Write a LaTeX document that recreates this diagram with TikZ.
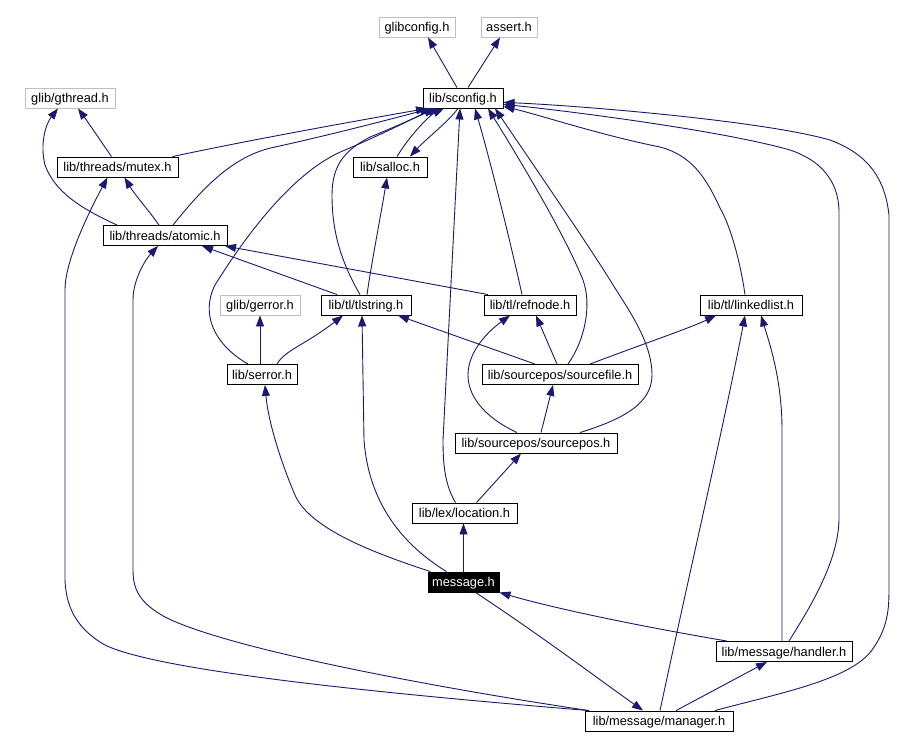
\documentclass[tikz,border=0pt]{standalone}
\usepackage{fontspec}
\setmainfont{Liberation Sans}
\usetikzlibrary{arrows.meta}
\definecolor{edgec}{RGB}{25,25,112}
\definecolor{extc}{RGB}{191,191,191}
\begin{document}
\begin{tikzpicture}[x=1pt,y=-1pt,
  box/.style={draw=black, line width=0.9pt, fill=white, inner sep=0pt, minimum height=20pt, text height=10pt, text depth=0.8pt, font=\fontsize{12.8}{14}\selectfont},
  ext/.style={box, draw=extc},
  cur/.style={box, fill=black, text=white},
  dep/.style={draw=edgec, line width=0.9pt, -{Triangle[length=11pt,width=8pt]}}]
\useasboundingbox[fill=white] (0,0) rectangle (908,748);

\node[ext, minimum width=76pt] (glibconfig) at (417,27) {glibconfig.h};
\node[ext, minimum width=56pt] (assert) at (509,27) {assert.h};
\node[box, minimum width=80pt] (sconfig) at (463,98) {lib/sconfig.h};
\node[ext, minimum width=90pt] (gthread) at (70,98) {glib/gthread.h};
\node[box, minimum width=121pt] (mutex) at (117.5,167) {lib/threads/mutex.h};
\node[box, minimum width=124pt] (atomic) at (165,235.5) {lib/threads/atomic.h};
\node[box, minimum width=74pt] (salloc) at (390,167) {lib/salloc.h};
\node[ext, minimum width=80pt] (gerror) at (260,305) {glib/gerror.h};
\node[box, minimum width=90pt] (tlstring) at (366,305) {lib/tl/tlstring.h};
\node[box, minimum width=92pt] (refnode) at (530,305) {lib/tl/refnode.h};
\node[box, minimum width=102pt] (linkedlist) at (751,305) {lib/tl/linkedlist.h};
\node[box, minimum width=70pt] (serror) at (262,374.5) {lib/serror.h};
\node[box, minimum width=156pt] (sourcefile) at (560,374.5) {lib/sourcepos/sourcefile.h};
\node[box, minimum width=162pt] (sourcepos) at (536,443) {lib/sourcepos/sourcepos.h};
\node[box, minimum width=105pt] (location) at (464.5,513) {lib/lex/location.h};
\node[cur, minimum width=71pt] (message) at (463.5,582) {message.h};
\node[box, minimum width=136pt] (handler) at (784,651.5) {lib/message/handler.h};
\node[box, minimum width=148pt] (manager) at (659,721) {lib/message/manager.h};

% sconfig
\draw[dep] ([xshift=-6]sconfig.north) -- ([xshift=11]glibconfig.south);
\draw[dep] ([xshift=5]sconfig.north) -- ([xshift=-9]assert.south);
% mutex / atomic
\draw[dep] ([xshift=-6]mutex.north) .. controls (100,140) and (90,125) .. ([xshift=8]gthread.south);
\draw[dep] ([xshift=-48]atomic.north) .. controls (80,208) and (55,192) .. (45,165) .. controls (40,145) and (45,125) .. ([xshift=-12]gthread.south);
\draw[dep] ([xshift=-6]atomic.north) .. controls (150,212) and (135,195) .. ([xshift=7]mutex.south);
\draw[dep] ([xshift=55]mutex.north) .. controls (250,140) and (350,122) .. ([xshift=-36]sconfig.south);
\draw[dep] ([xshift=8]atomic.north) .. controls (205,185) and (235,155) .. (275,147) .. controls (330,135) and (395,118) .. ([xshift=-32]sconfig.south);
% serror
\draw[dep] ([xshift=-14]serror.north) .. controls (215,345) and (200,315) .. (215,285) .. controls (240,245) and (290,172) .. (345,150) .. controls (385,133) and (420,115) .. ([xshift=-28]sconfig.south);
\draw[dep] ([xshift=-2]serror.north) -- (gerror.south);
\draw[dep] ([xshift=15]serror.north) .. controls (285,350) and (305,345) .. ([xshift=-23]tlstring.south);
% tlstring
\draw[dep] ([xshift=-6]tlstring.north) .. controls (340,260) and (332,230) .. (332,195) .. controls (332,165) and (345,150) .. (370,137) .. controls (400,125) and (425,113) .. ([xshift=-24]sconfig.south);
\draw[dep] ([xshift=1]tlstring.north) .. controls (372,260) and (380,220) .. ([xshift=-3]salloc.south);
\draw[dep] ([xshift=-29]tlstring.north) -- ([xshift=37]atomic.south);
% salloc
\draw[dep] ([xshift=7]salloc.north) .. controls (410,135) and (430,115) .. ([xshift=-19]sconfig.south);
\draw[dep] ([xshift=-5]sconfig.south) .. controls (450,120) and (425,140) .. ([xshift=20]salloc.north);
% refnode
\draw[dep] ([xshift=-42]refnode.north) -- ([xshift=60]atomic.south);
\draw[dep] ([xshift=-8]refnode.north) .. controls (510,240) and (490,160) .. ([xshift=12]sconfig.south);
% linkedlist
\draw[dep] ([xshift=-6]linkedlist.north) .. controls (740,260) and (730,225) .. (720,208) .. controls (705,175) and (690,155) .. (660,147) .. controls (600,135) and (540,115) .. ([yshift=2]sconfig.south east);
% sourcefile
\draw[dep] ([xshift=8]sourcefile.north) .. controls (585,340) and (592,305) .. (583,280) .. controls (565,235) and (520,160) .. ([xshift=25]sconfig.south);
\draw[dep] ([xshift=-3]sourcefile.north) -- ([xshift=6]refnode.south);
\draw[dep] ([xshift=-25]sourcefile.north) -- ([xshift=32]tlstring.south);
\draw[dep] ([xshift=30]sourcefile.north) .. controls (640,345) and (690,328) .. ([xshift=-35]linkedlist.south);
% sourcepos
\draw[dep] ([xshift=44]sourcepos.north) .. controls (620,420) and (652,405) .. (652,375) .. controls (652,340) and (625,305) .. (610,280) .. controls (585,240) and (530,160) .. ([xshift=32]sconfig.south);
\draw[dep] ([xshift=-19]sourcepos.north) .. controls (490,420) and (468,400) .. (468,375) .. controls (468,350) and (490,330) .. ([xshift=-20]refnode.south);
\draw[dep] ([xshift=5]sourcepos.north) -- ([xshift=-7]sourcefile.south);
% location
\draw[dep] ([xshift=-9]location.north) .. controls (445,485) and (443,465) .. (443,440) -- ([xshift=-3]sconfig.south);
\draw[dep] ([xshift=12]location.north) -- ([xshift=-15]sourcepos.south);
% message
\draw[dep] (message.north) -- (message.north |- location.south);
\draw[dep] ([xshift=-33]message.north) .. controls (380,555) and (310,530) .. (295,495) .. controls (280,460) and (268,420) .. ([xshift=3]serror.south);
\draw[dep] ([xshift=-17]message.north) .. controls (395,540) and (368,495) .. (364,440) -- ([xshift=-4]tlstring.south);
\draw[dep] ([xshift=12]message.south) .. controls (540,635) and (600,680) .. ([xshift=-16]manager.north);
% handler
\draw[dep] ([xshift=-57]handler.north) .. controls (650,628) and (560,610) .. (message.south east);
\draw[dep] ([xshift=5]handler.north) .. controls (805,615) and (838,565) .. (839,520) -- (839,210) .. controls (838,180) and (820,160) .. (790,150) .. controls (720,130) and (560,110) .. ([yshift=4]sconfig.south east);
\draw[dep] ([xshift=-2]handler.north) -- (782,430) .. controls (782,380) and (770,345) .. ([xshift=10]linkedlist.south);
% manager
\draw[dep] ([xshift=17]manager.north) -- ([xshift=-17]handler.south);
\draw[dep] ([xshift=1]manager.north) .. controls (690,570) and (725,420) .. ([xshift=-6]linkedlist.south);
\draw[dep] ([xshift=56]manager.north) .. controls (780,693) and (850,680) .. (872,650) .. controls (890,625) and (889,605) .. (889,580) -- (889,215) .. controls (885,180) and (870,155) .. (830,140) .. controls (760,120) and (570,105) .. ([yshift=6]sconfig.south east);
\draw[dep] ([xshift=-70]manager.north) .. controls (400,695) and (160,672) .. (105,645) .. controls (75,628) and (66,605) .. (65,580) -- (65,290) .. controls (65,260) and (90,210) .. ([xshift=-10]mutex.south);
\draw[dep] ([xshift=-70]manager.north) .. controls (450,690) and (230,650) .. (165,617) .. controls (140,603) and (133,590) .. (133,570) -- (133,300) .. controls (133,280) and (145,260) .. ([xshift=-7]atomic.south);
\end{tikzpicture}
\end{document}
